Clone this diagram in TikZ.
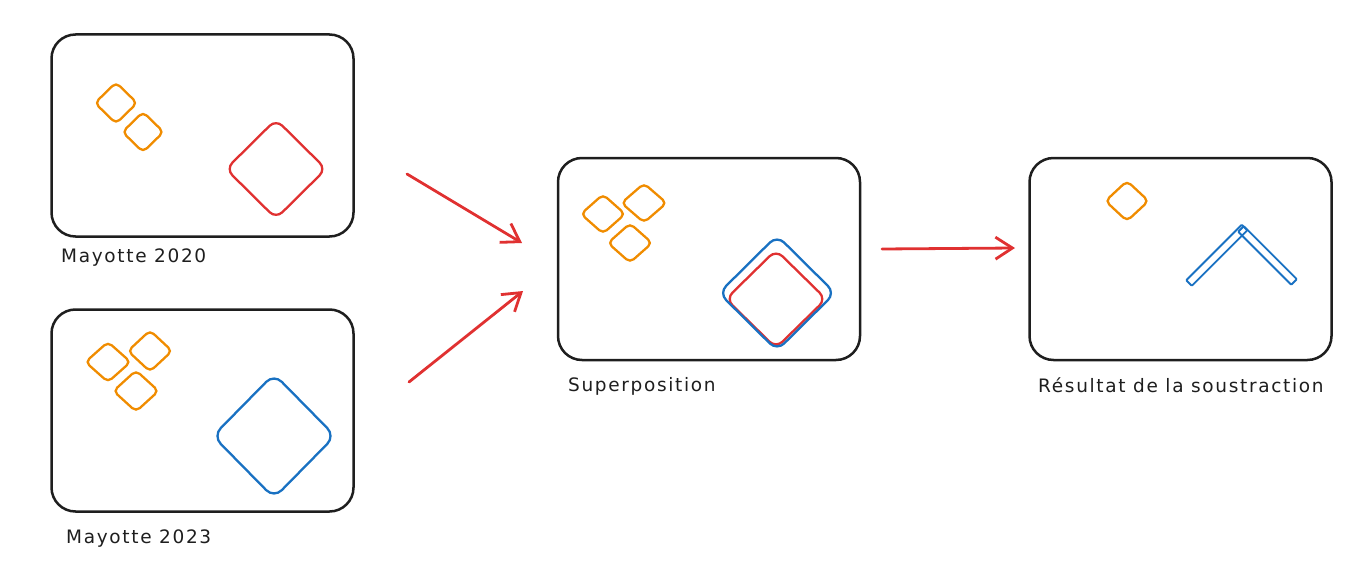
\documentclass[tikz,border=0pt]{standalone}
\usepackage{fontspec}
\setmainfont{DejaVu Sans}[LetterSpace=9]
\usetikzlibrary{arrows.meta,shapes.geometric}
\definecolor{ink}{HTML}{1E1E1E}
\definecolor{ora}{HTML}{F08C00}
\definecolor{rd}{HTML}{E03131}
\definecolor{bl}{HTML}{1971C2}
\tikzset{
  frame/.style={draw=ink, line width=2.5pt, rounded corners=24pt, minimum width=302pt, minimum height=202pt, inner sep=0pt},
  dia/.style={diamond, draw, line width=2.3pt, inner sep=0pt, rounded corners=5pt},
  lbl/.style={anchor=base west, text=ink, font=\fontsize{18.5}{22}\selectfont, inner sep=0pt},
  flow/.style={draw=rd, line width=2.8pt, line cap=round, -{Straight Barb[length=17pt,width=22pt,line width=2.8pt]}},
  bar/.style={draw=bl, line width=1.9pt, rounded corners=0.8pt}
}
\begin{document}
\begin{tikzpicture}[x=1pt,y=-1pt]
\useasboundingbox (0,0) rectangle (1372,575);
% frames
\node[frame] (fa) at (202.5,135.5) {};
\node[frame] (fb) at (202.5,410.5) {};
\node[frame] (fc) at (709,259) {};
\node[frame] (fd) at (1180.5,259) {};
% labels
\node[lbl] (la) at (61,262) {Mayotte 2020};
\node[lbl] (lb) at (66,543) {Mayotte 2023};
\node[lbl] (lc) at (568,391) {Superposition};
\node[lbl] (ld) at (1038,392) {Résultat de la soustraction};
% box A
\node[dia, draw=ora, minimum width=43pt, minimum height=42pt] (a1) at (116,103) {};
\node[dia, draw=ora, minimum width=42pt, minimum height=41pt] (a2) at (143,132) {};
\node[dia, draw=rd, minimum width=101pt, minimum height=100pt, rounded corners=9pt] (a3) at (276,169) {};
% box B
\node[dia, draw=ora, minimum width=46pt, minimum height=41pt] (b1) at (108,362) {};
\node[dia, draw=ora, minimum width=45pt, minimum height=42pt] (b2) at (150,351) {};
\node[dia, draw=ora, minimum width=46pt, minimum height=42pt] (b3) at (136,391) {};
\node[dia, draw=bl, minimum width=123pt, minimum height=125pt, rounded corners=11pt] (b4) at (274,436) {};
% box C
\node[dia, draw=ora, minimum width=45pt, minimum height=40pt] (c1) at (603,214) {};
\node[dia, draw=ora, minimum width=46pt, minimum height=40pt] (c2) at (644,203) {};
\node[dia, draw=ora, minimum width=45pt, minimum height=40pt] (c3) at (630,243) {};
\node[dia, draw=rd, minimum width=101pt, minimum height=99pt, rounded corners=9pt] (c4) at (776,299) {};
\node[dia, draw=bl, minimum width=117pt, minimum height=116pt, rounded corners=10pt] (c5) at (777,293) {};
% box D
\node[dia, draw=ora, minimum width=44pt, minimum height=41pt] (d1) at (1127,201) {};
\draw[bar] (1186.2,280.2) -- (1191.8,285.8) -- (1247.3,230.3) -- (1241.7,224.7) -- cycle;
\draw[bar] (1243.8,226.2) -- (1238.2,231.8) -- (1291.2,284.8) -- (1296.8,279.2) -- cycle;
% arrows
\coordinate (s1) at (407,174);
\coordinate (t1) at (522,243);
\coordinate (s2) at (409,382);
\coordinate (t2) at (523,291);
\coordinate (s3) at (882,249);
\coordinate (t3) at (1015,248);
\draw[flow] (s1) -- (t1);
\draw[flow] (s2) -- (t2);
\draw[flow] (s3) -- (t3);
\end{tikzpicture}
\end{document}
